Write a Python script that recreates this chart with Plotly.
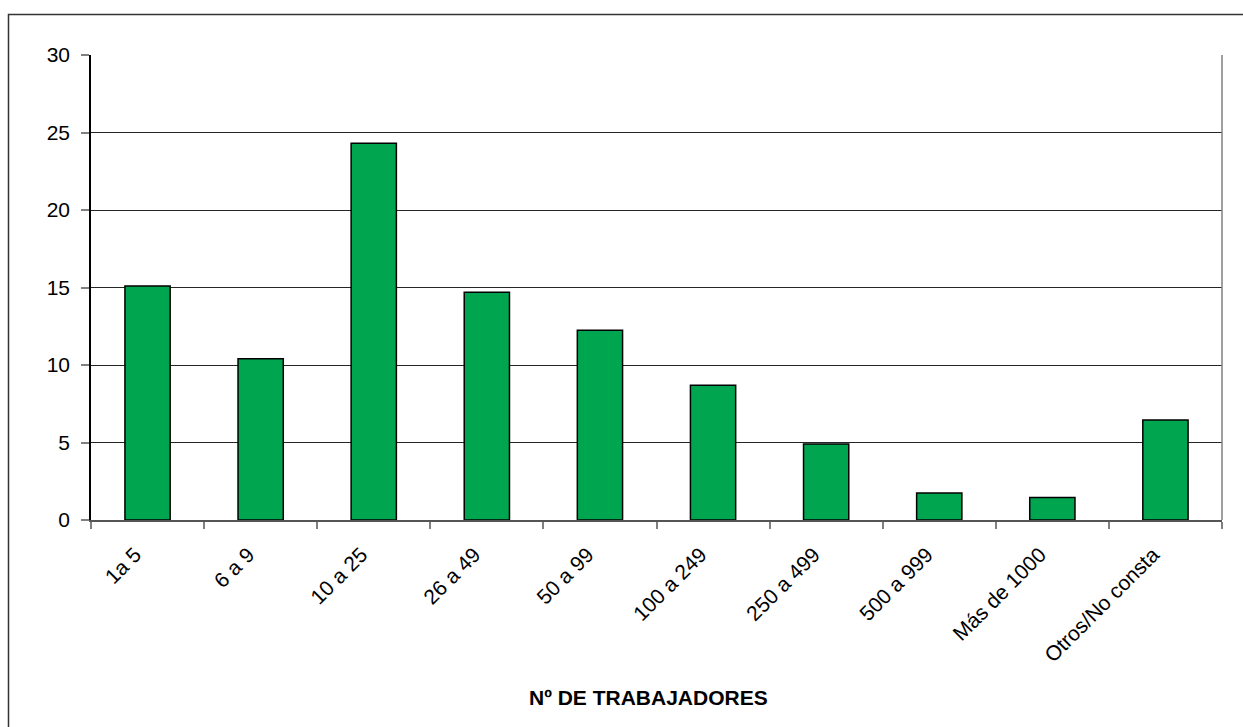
import plotly.graph_objects as go

categories = ["1a 5", "6 a 9", "10 a 25", "26 a 49", "50 a 99", "100 a 249",
              "250 a 499", "500 a 999", "Más de 1000", "Otros/No consta"]
values = [15.1, 10.4, 24.3, 14.7, 12.25, 8.7, 4.9, 1.75, 1.45, 6.45]
y_ticks = [0, 5, 10, 15, 20, 25, 30]
x_title = "Nº DE TRABAJADORES"

W, H = 1243, 727
L, R, T, B = 91, 21, 55, 207
pw, ph = W - L - R, H - T - B

def px(x):
    return (x - L) / pw

def py(y):
    return (H - B - y) / ph

FONT = "Liberation Sans, Arial, sans-serif"
FS = 21

fig = go.Figure(go.Bar(
    x=categories, y=values,
    marker=dict(color="#00A64F", line=dict(color="#000000", width=1.5)),
    hoverinfo="x+y",
))

fig.update_layout(
    width=W, height=H,
    margin=dict(l=L, r=R, t=T, b=B, pad=0),
    paper_bgcolor="white", plot_bgcolor="white",
    bargap=0.6,
    showlegend=False,
    font=dict(family=FONT, size=FS, color="#000000"),
    xaxis=dict(
        type="category", tickson="boundaries", ticks="outside", ticklen=7,
        tickcolor="#808080", tickwidth=1.5, tickangle=-45,
        tickvals=categories, ticktext=[c + "\u00a0" * 3 for c in categories],
        showline=True, linecolor="#555555", linewidth=1.5,
        showgrid=False, zeroline=False,
        tickfont=dict(family=FONT, size=FS, color="#000000"),
    ),
    yaxis=dict(
        range=[0, 30], tickvals=y_ticks, ticks="outside", ticklen=8,
        tickcolor="#808080", tickwidth=1.5,
        showline=True, linecolor="#000000", linewidth=1.5,
        showgrid=True, gridcolor="#262626", gridwidth=1.3,
        zeroline=False, ticklabelstandoff=7,
        tickfont=dict(family=FONT, size=FS, color="#000000"),
    ),
    shapes=[
        dict(type="line", xref="paper", yref="paper", x0=1, x1=1, y0=0, y1=1,
             line=dict(color="#808080", width=1.5)),
        dict(type="rect", xref="paper", yref="paper",
             x0=px(8.5), x1=px(1250), y0=py(14.5), y1=py(735),
             line=dict(color="#333333", width=1.5), fillcolor="rgba(0,0,0,0)",
             layer="above"),
    ],
    annotations=[
        dict(text="<b>" + x_title + "</b>", xref="paper", yref="paper",
             x=px(648), y=py(697), xanchor="center", yanchor="middle",
             showarrow=False, font=dict(family=FONT, size=FS, color="#000000")),
    ],
)

fig.write_html("out.html", config={"displayModeBar": False},
               post_script="document.body.style.margin='0';document.body.style.overflow='hidden';")
